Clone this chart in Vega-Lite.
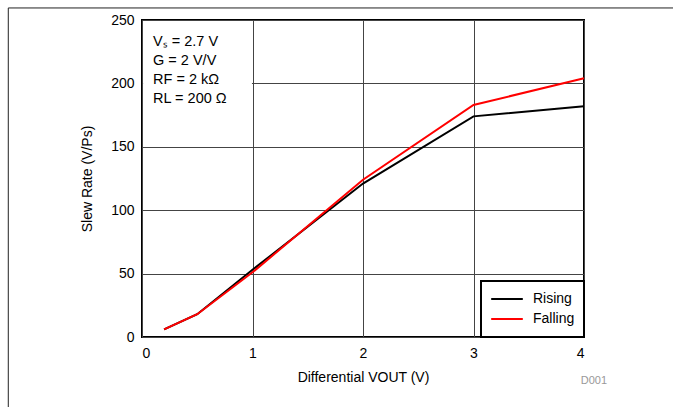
{
  "$schema": "https://vega.github.io/schema/vega-lite/v6.json",
  "width": 442,
  "height": 317,
  "autosize": "none",
  "padding": {"left": 142, "top": 20, "right": 89, "bottom": 70},
  "background": "white",
  "config": {
    "font": "Liberation Sans",
    "view": {"stroke": "black", "strokeWidth": 2},
    "axis": {
      "labelFont": "Liberation Sans",
      "titleFont": "Liberation Sans",
      "labelFontSize": 14,
      "titleFontSize": 14,
      "titleFontWeight": "normal",
      "labelColor": "black",
      "titleColor": "black",
      "ticks": false,
      "domain": false,
      "gridColor": "#444",
      "gridWidth": 1,
      "gridOpacity": 1
    },
    "legend": {
      "labelFont": "Liberation Sans",
      "labelFontSize": 14,
      "labelColor": "black"
    }
  },
  "datasets": {
    "curves": [
      {"vout": 0.2, "rate": 6, "edge": "Rising"},
      {"vout": 0.5, "rate": 18, "edge": "Rising"},
      {"vout": 1, "rate": 53, "edge": "Rising"},
      {"vout": 2, "rate": 121, "edge": "Rising"},
      {"vout": 3, "rate": 174, "edge": "Rising"},
      {"vout": 4, "rate": 182, "edge": "Rising"},
      {"vout": 0.2, "rate": 6, "edge": "Falling"},
      {"vout": 0.5, "rate": 18, "edge": "Falling"},
      {"vout": 1, "rate": 51, "edge": "Falling"},
      {"vout": 2, "rate": 124, "edge": "Falling"},
      {"vout": 3, "rate": 183, "edge": "Falling"},
      {"vout": 4, "rate": 204, "edge": "Falling"}
    ],
    "notes": [
      {"vout": 0.1, "rate": 232.6, "label": "Vₛ = 2.7 V"},
      {"vout": 0.1, "rate": 217.7, "label": "G = 2 V/V"},
      {"vout": 0.1, "rate": 202.7, "label": "RF = 2 kΩ"},
      {"vout": 0.1, "rate": 187.7, "label": "RL = 200 Ω"}
    ],
    "notebox": [{"xa": 0.01, "xb": 0.995, "ya": 178, "yb": 249.2}],
    "tag": [{"vout": 4.09, "rate": -34.7, "label": "D001"}],
    "border": [
      {"xa": -1.21, "xb": 4.9, "ya": 259.5, "yb": 259.5},
      {"xa": -1.21, "xb": -1.21, "ya": 259.5, "yb": -60}
    ]
  },
  "layer": [
    {
      "data": {"name": "notebox"},
      "mark": {"type": "rect", "color": "white"},
      "encoding": {
        "x": {"field": "xa", "type": "quantitative"},
        "x2": {"field": "xb"},
        "y": {"field": "ya", "type": "quantitative"},
        "y2": {"field": "yb"}
      }
    },
    {
      "data": {"name": "curves"},
      "mark": {"type": "line", "strokeWidth": 2},
      "encoding": {
        "x": {
          "field": "vout", "type": "quantitative",
          "scale": {"domain": [0, 4], "nice": false},
          "axis": {"values": [0, 1, 2, 3, 4], "format": "d", "title": "Differential VOUT (V)", "labelPadding": 9, "titlePadding": 10}
        },
        "y": {
          "field": "rate", "type": "quantitative",
          "scale": {"domain": [0, 250], "nice": false},
          "axis": {"values": [0, 50, 100, 150, 200, 250], "title": "Slew Rate (V/Ps)", "labelPadding": 8, "titlePadding": 16}
        },
        "color": {
          "field": "edge", "type": "nominal",
          "scale": {"domain": ["Rising", "Falling"], "range": ["black", "#ff0000"]},
          "legend": {
            "title": null,
            "orient": "bottom-right",
            "offset": 0,
            "strokeColor": "black",
            "fillColor": "white",
            "padding": 9,
            "symbolType": "stroke",
            "symbolStrokeWidth": 2,
            "symbolSize": 1000,
            "clipHeight": 18,
            "labelOffset": 9,
            "rowPadding": 2,
            "encode": {"legend": {"update": {"strokeWidth": {"value": 2}}}}
          }
        }
      }
    },
    {
      "data": {"name": "notes"},
      "mark": {"type": "text", "align": "left", "baseline": "middle", "fontSize": 14.5, "color": "black"},
      "encoding": {
        "x": {"field": "vout", "type": "quantitative"},
        "y": {"field": "rate", "type": "quantitative"},
        "text": {"field": "label"}
      }
    },
    {
      "data": {"name": "tag"},
      "mark": {"type": "text", "align": "center", "baseline": "middle", "fontSize": 11, "color": "#999"},
      "encoding": {
        "x": {"field": "vout", "type": "quantitative"},
        "y": {"field": "rate", "type": "quantitative"},
        "text": {"field": "label"}
      }
    },
    {
      "data": {"name": "border"},
      "mark": {"type": "rule", "color": "#222", "strokeWidth": 1},
      "encoding": {
        "x": {"field": "xa", "type": "quantitative"},
        "x2": {"field": "xb"},
        "y": {"field": "ya", "type": "quantitative"},
        "y2": {"field": "yb"}
      }
    }
  ]
}
